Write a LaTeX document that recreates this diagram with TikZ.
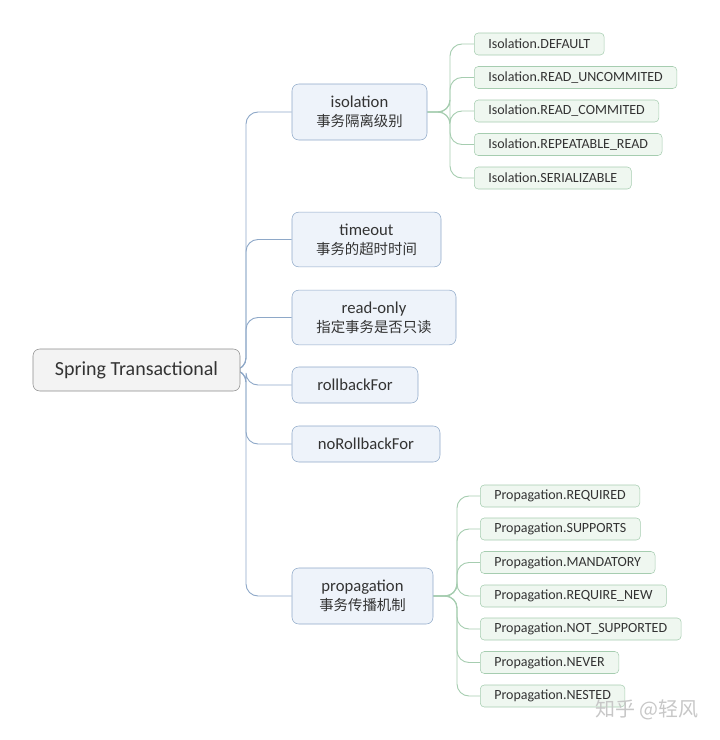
\documentclass[tikz,border=0pt]{standalone}
\usepackage{fontspec}
\setmainfont{Carlito}
\newfontfamily\cjk{Noto Sans CJK SC}
\pgfdeclarelayer{edgelayer}
\pgfdeclarelayer{nodelayer}
\pgfsetlayers{edgelayer,nodelayer,main}
\definecolor{rootfill}{HTML}{F3F3F3}
\definecolor{rootline}{HTML}{8C8C8C}
\definecolor{topicfill}{HTML}{EEF3FA}
\definecolor{topicline}{HTML}{8EA8C8}
\definecolor{leaffill}{HTML}{EFF7F0}
\definecolor{leafline}{HTML}{A6CDB0}
\definecolor{ink}{HTML}{333333}
\newcommand{\zh}[1]{{\cjk\fontsize{10.8}{14}\selectfont #1}}
\tikzstyle{boxw}=[minimum width=#1*0.75pt]
\tikzstyle{root}=[draw=rootline, fill=rootfill, rounded corners=5pt, minimum height=31.5pt, text=ink, font=\fontsize{15}{17}\selectfont]
\tikzstyle{topic}=[draw=topicline, fill=topicfill, rounded corners=5pt, text=ink, align=center, font=\fontsize{12.5}{14.5}\selectfont]
\tikzstyle{leaf}=[draw=leafline, fill=leaffill, rounded corners=3pt, anchor=west, minimum height=16.5pt, inner ysep=0pt, inner xsep=10.5pt, text=ink, font=\fontsize{10.5}{12}\selectfont]
\tikzstyle{edge}=[draw=topicline, line width=0.7pt, rounded corners=9pt]
\tikzstyle{leafedge}=[draw=leafline, line width=0.7pt, rounded corners=9pt]

\begin{document}
\begin{tikzpicture}[x=0.75pt, y=-0.75pt]
	\path[use as bounding box] (0, 0) rectangle (720, 740);
	\begin{pgfonlayer}{nodelayer}
		\node [style=root, boxw=207] (0) at (136.5, 370) {Spring Transactional};
		\node [style=topic, boxw=135, minimum height=42pt] (1) at (359.5, 112) {isolation\\\zh{事务隔离级别}};
		\node [style=topic, boxw=149, minimum height=41pt] (2) at (366.5, 239.5) {timeout\\\zh{事务的超时时间}};
		\node [style=topic, boxw=164, minimum height=41pt] (3) at (374, 317.5) {read-only\\\zh{指定事务是否只读}};
		\node [style=topic, boxw=126, minimum height=27pt] (4) at (355, 385) {rollbackFor};
		\node [style=topic, boxw=148, minimum height=27pt] (5) at (366, 444) {noRollbackFor};
		\node [style=topic, boxw=141, minimum height=42pt] (6) at (362.5, 596) {propagation\\\zh{事务传播机制}};
		% isolation levels
		\node [style=leaf] (11) at (474, 44) {Isolation.DEFAULT};
		\node [style=leaf] (12) at (474, 77.5) {Isolation.READ\_UNCOMMITED};
		\node [style=leaf] (13) at (474, 111) {Isolation.READ\_COMMITED};
		\node [style=leaf] (14) at (474, 144.5) {Isolation.REPEATABLE\_READ};
		\node [style=leaf] (15) at (474, 178) {Isolation.SERIALIZABLE};
		% propagation behaviours
		\node [style=leaf] (21) at (480, 496) {Propagation.REQUIRED};
		\node [style=leaf] (22) at (480, 529) {Propagation.SUPPORTS};
		\node [style=leaf] (23) at (480, 562.5) {Propagation.MANDATORY};
		\node [style=leaf] (24) at (480, 596) {Propagation.REQUIRE\_NEW};
		\node [style=leaf] (25) at (480, 629) {Propagation.NOT\_SUPPORTED};
		\node [style=leaf] (26) at (480, 662.5) {Propagation.NEVER};
		\node [style=leaf] (27) at (480, 696) {Propagation.NESTED};
		\node [text=black!22, font={\cjk\fontsize{15}{17}\selectfont}] (30) at (647, 710) {知乎 @轻风};
	\end{pgfonlayer}
	\begin{pgfonlayer}{edgelayer}
		\coordinate (t0) at (246, 370);
		\coordinate (t1) at (450, 112);
		\coordinate (t6) at (457, 596);
		\foreach \n in {1,...,6}
			\draw [style=edge] (0.east) -- (t0) |- (\n.west);
		\foreach \n in {11,...,15}
			\draw [style=leafedge] (1.east) -- (t1) |- (\n.west);
		\foreach \n in {21,...,27}
			\draw [style=leafedge] (6.east) -- (t6) |- (\n.west);
	\end{pgfonlayer}
\end{tikzpicture}
\end{document}
